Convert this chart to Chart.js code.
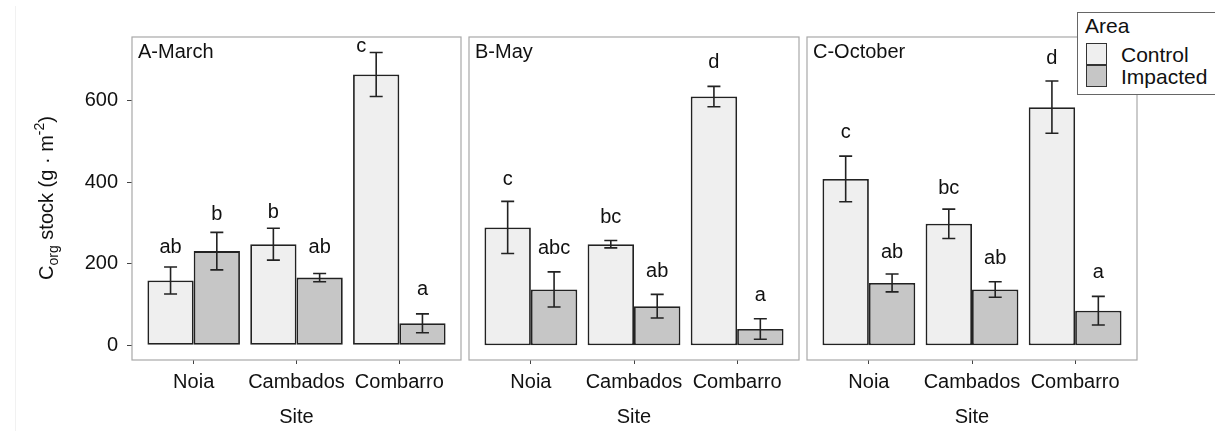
<!DOCTYPE html>
<html>
<head>
<meta charset="utf-8">
<script src="https://cdn.jsdelivr.net/npm/chart.js@4.4.0/dist/chart.umd.min.js"></script>
<style>
  body { margin: 0; background: #fff; overflow: hidden; font-family: "Liberation Sans", Arial, sans-serif; }
  #wrap { position: relative; width: 1215px; height: 431px; overflow: hidden; background: #fff; }
  canvas { position: absolute; top: 0; }
  #edge { position: absolute; left: 15px; top: 6px; width: 1px; height: 425px; background: #f1f1f1; }
  #legend { position: absolute; left: 1077px; top: 12px; width: 170px; height: 81px; border: 1px solid #666; background: #fff; color: #111; font-size: 21px; }
  #legend span { position: absolute; white-space: nowrap; line-height: 1; }
  #legend .key { width: 21px; height: 22px; border: 1.8px solid #333; box-sizing: border-box; }
</style>
</head>
<body>
<div id="wrap">
  <div id="edge"></div>
  <canvas id="panelA" width="465" height="431" style="left:0px"></canvas>
  <canvas id="panelB" width="338" height="431" style="left:465px"></canvas>
  <canvas id="panelC" width="338" height="431" style="left:803px"></canvas>
  <div id="legend"></div>
</div>
<script>
const sites = ['Noia', 'Cambados', 'Combarro'];
const months = ['A-March', 'B-May', 'C-October'];
const areas = ['Control', 'Impacted'];
const areaColors = ['#efefef', '#c6c6c6'];
const yTicks = [0, 200, 400, 600];

// mean C stock per site
const marchControl = [159, 248, 664];
const marchImpacted = [231, 166, 54];
const mayControl = [289, 248, 610];
const mayImpacted = [137, 96, 40];
const octControl = [408, 298, 584];
const octImpacted = [153, 137, 85];

// error bar half width
const marchControlErr = [33, 39, 54];
const marchImpactedErr = [46, 10, 23];
const mayControlErr = [64, 9, 25];
const mayImpactedErr = [43, 29, 25];
const octControlErr = [56, 36, 64];
const octImpactedErr = [22, 19, 35];

// significance letters and the height they sit at
const marchControlLetters = ['ab', 'b', 'c'];
const marchImpactedLetters = ['b', 'ab', 'a'];
const mayControlLetters = ['c', 'bc', 'd'];
const mayImpactedLetters = ['abc', 'ab', 'a'];
const octControlLetters = ['c', 'bc', 'd'];
const octImpactedLetters = ['ab', 'ab', 'a'];

const marchControlLetterY = [226, 311, 720];
const marchImpactedLetterY = [307, 226, 124];
const mayControlLetterY = [394, 300, 681];
const mayImpactedLetterY = [224, 167, 109];
const octControlLetterY = [508, 372, 690];
const octImpactedLetterY = [213, 200, 165];

const FONT = '"Liberation Sans", Arial, sans-serif';
Chart.defaults.font.family = FONT;
Chart.defaults.color = '#111';

const panelDecor = {
    id: 'panelDecor',
    beforeDatasetsDraw(chart) {
        const { ctx, chartArea: a } = chart;
        ctx.save();
        ctx.strokeStyle = '#a8a8a8';
        ctx.lineWidth = 1.2;
        ctx.strokeRect(a.left, a.top, a.right - a.left, a.bottom - a.top);
        ctx.restore();
    },
    afterDatasetsDraw(chart, args, opts) {
        const { ctx, chartArea: a, scales: { y } } = chart;
        ctx.save();
        chart.data.datasets.forEach((ds, di) => {
            const meta = chart.getDatasetMeta(di);
            meta.data.forEach((bar, i) => {
                const m = ds.data[i].y, e = ds.errors[i];
                const top = y.getPixelForValue(m + e), bot = y.getPixelForValue(m - e);
                ctx.strokeStyle = '#222';
                ctx.lineWidth = 1.6;
                ctx.beginPath();
                ctx.moveTo(bar.x, top); ctx.lineTo(bar.x, bot);
                ctx.moveTo(bar.x - 6.5, top); ctx.lineTo(bar.x + 6.5, top);
                ctx.moveTo(bar.x - 6.5, bot); ctx.lineTo(bar.x + 6.5, bot);
                ctx.stroke();

                ctx.fillStyle = '#111';
                ctx.font = '20px ' + FONT;
                ctx.textAlign = 'center';
                ctx.textBaseline = 'alphabetic';
                const nudge = ds.nudge ? ds.nudge[i] : 0;
                ctx.fillText(ds.letters[i], bar.x + nudge, y.getPixelForValue(ds.letterY[i]));
            });
        });
        // facet label
        ctx.font = '20px ' + FONT;
        ctx.textAlign = 'left';
        ctx.fillStyle = '#111';
        ctx.fillText(opts.title, a.left + 6, a.top + 21);

        if (opts.yTitle) {
            // C_org stock (g · m^-2), rotated
            const parts = [
                ['C', 20, 0], ['org', 14, 5], [' stock (g \u00b7 m', 20, 0], ['-2', 14, -9], [')', 20, 0]
            ];
            let total = 0;
            parts.forEach(p => { ctx.font = p[1] + 'px ' + FONT; total += ctx.measureText(p[0]).width; });
            ctx.translate(53, 198);
            ctx.rotate(-Math.PI / 2);
            let xPos = -total / 2;
            parts.forEach(p => {
                ctx.font = p[1] + 'px ' + FONT;
                ctx.fillText(p[0], xPos, p[2]);
                xPos += ctx.measureText(p[0]).width;
            });
        }
        ctx.restore();
    }
};

function makeDataset(idx, values, errors, letters, letterY, nudge) {
    return {
        label: areas[idx],
        data: values.map((v, i) => ({ x: i + 1, y: v })),
        errors: errors,
        letters: letters,
        letterY: letterY,
        nudge: nudge,
        backgroundColor: areaColors[idx],
        borderColor: '#222',
        borderWidth: 1.8,
        borderSkipped: false,
        categoryPercentage: 0.9,
        barPercentage: 1.0
    };
}

function makePanel(id, p, datasets) {
    const first = p === 0;
    return new Chart(document.getElementById(id), {
        type: 'bar',
        data: { datasets: datasets },
        options: {
            responsive: false,
            animation: false,
            layout: { padding: { top: 37, right: 4, left: first ? 0 : 4, bottom: 0 } },
            scales: {
                x: {
                    type: 'linear',
                    min: 0.4,
                    max: 3.6,
                    offset: false,
                    afterBuildTicks: s => { s.ticks = sites.map((_, i) => ({ value: i + 1 })); },
                    afterFit: s => { s.height = 71; },
                    ticks: {
                        callback: v => sites[Math.round(v) - 1],
                        font: { size: 20 },
                        color: '#111',
                        padding: 6,
                        maxRotation: 0,
                        autoSkip: false
                    },
                    grid: { offset: false, drawOnChartArea: false, tickLength: 4, color: '#444' },
                    border: { display: false },
                    title: { display: true, text: 'Site', font: { size: 20 }, color: '#111', padding: { top: 0, bottom: 2 } }
                },
                y: {
                    display: first,
                    min: -36,
                    max: 756,
                    afterBuildTicks: s => { s.ticks = yTicks.map(v => ({ value: v })); },
                    afterFit: first ? (s => { s.width = 132; }) : undefined,
                    ticks: { font: { size: 20 }, color: '#111', padding: 9 },
                    grid: { drawOnChartArea: false, tickLength: 5, color: '#444' },
                    border: { display: false }
                }
            },
            plugins: {
                legend: { display: false },
                tooltip: { enabled: false },
                panelDecor: { title: months[p], yTitle: first }
            }
        },
        plugins: [panelDecor]
    });
}

makePanel('panelA', 0, [
    makeDataset(0, marchControl, marchControlErr, marchControlLetters, marchControlLetterY, [0, 0, -15]),
    makeDataset(1, marchImpacted, marchImpactedErr, marchImpactedLetters, marchImpactedLetterY)
]);
makePanel('panelB', 1, [
    makeDataset(0, mayControl, mayControlErr, mayControlLetters, mayControlLetterY),
    makeDataset(1, mayImpacted, mayImpactedErr, mayImpactedLetters, mayImpactedLetterY)
]);
makePanel('panelC', 2, [
    makeDataset(0, octControl, octControlErr, octControlLetters, octControlLetterY),
    makeDataset(1, octImpacted, octImpactedErr, octImpactedLetters, octImpactedLetterY)
]);

// legend box
const legend = document.getElementById('legend');
let html = '<span style="left:7px;top:2px">Area</span>';
areas.forEach((name, i) => {
    const top = 30 + i * 22;
    html += '<span class="key" style="left:8px;top:' + top + 'px;background:' + areaColors[i] + '"></span>';
    html += '<span style="left:43px;top:' + (top + 0.5) + 'px">' + name + '</span>';
});
legend.innerHTML = html;
</script>
</body>
</html>
